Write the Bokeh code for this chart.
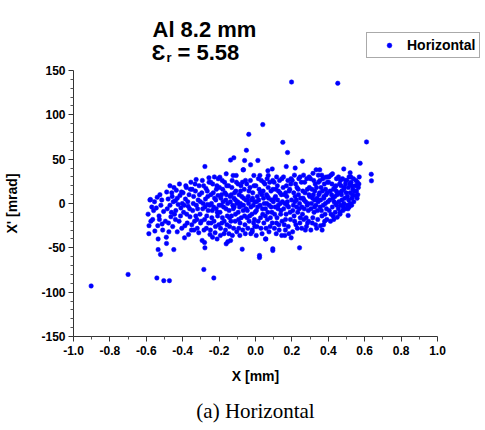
from bokeh.plotting import figure
from bokeh.models import (Range1d, Label, Legend, LegendItem, FixedTicker,
                          PrintfTickFormatter, ColumnDataSource)
from bokeh.embed import file_html
from bokeh.resources import INLINE

# ---- data: (X [mm], X' [mrad]) ----
core_pts = [
    (-0.59,-12),(-0.58,4),(-0.585,-25),(-0.586,-34),(-0.57,-4),(-0.565,-18),(-0.56,-8),(-0.553,-31),(-0.555,2),(-0.575,-20),
    (-0.54,7),(-0.537,-25),(-0.53,-14),(-0.545,-5),(-0.52,-2),(-0.513,-23),(-0.525,10),(-0.51,-30),(-0.505,-9),(-0.535,-40),(-0.515,4),(-0.528,-18),
    (-0.49,-38),(-0.476,-32),(-0.47,20),(-0.495,-20),(-0.485,-6),(-0.48,5),(-0.465,-15),(-0.46,12),(-0.455,-26),(-0.47,-2),(-0.452,2),(-0.488,13),(-0.462,-10),(-0.478,-22),(-0.458,8),
    (-0.43,-32),(-0.445,-12),(-0.44,3),(-0.435,15),(-0.42,-20),(-0.41,-5),(-0.415,9),(-0.405,-28),(-0.448,18),(-0.425,-1),(-0.43,6),(-0.412,-14),(-0.402,0),(-0.438,-8),(-0.418,22),(-0.407,13),(-0.44,-18),
    (-0.39,-38.7),(-0.395,-10),(-0.385,5),(-0.38,18),(-0.375,-22),(-0.37,-3),(-0.365,10),(-0.36,-15),(-0.355,24),(-0.352,-30),(-0.398,12),(-0.388,-25),(-0.372,2),(-0.362,-6),(-0.378,-12),(-0.358,16),(-0.368,-35),(-0.392,-2),(-0.383,20),
    (-0.326,27),(-0.345,-8),(-0.34,8),(-0.335,-20),(-0.33,14),(-0.325,-2),(-0.32,-28),(-0.315,4),(-0.31,20),(-0.305,-12),(-0.348,16),(-0.338,-30),(-0.328,-14),(-0.318,-6),(-0.308,10),(-0.302,-22),(-0.342,0),(-0.332,22),(-0.322,-18),(-0.312,-33),(-0.35,-24),(-0.303,2),
    (-0.293,-41.7),(-0.28,-44),(-0.278,-50),(-0.278,41.7),(-0.256,29),(-0.295,12),(-0.29,-6),(-0.285,20),(-0.28,-18),(-0.275,5),(-0.27,-28),(-0.265,14),(-0.26,-8),(-0.255,24),(-0.252,-2),(-0.298,-20),(-0.288,0),(-0.283,-30),(-0.272,17),(-0.268,-14),(-0.262,8),(-0.258,-22),(-0.25,-35),(-0.292,26),(-0.277,-4),(-0.264,-1),
    (-0.245,10),(-0.24,-16),(-0.235,22),(-0.23,-4),(-0.225,6),(-0.22,-26),(-0.215,16),(-0.21,-10),(-0.205,28),(-0.2,-2),(-0.248,-30),(-0.242,0),(-0.238,-8),(-0.232,12),(-0.228,-20),(-0.222,-33),(-0.218,4),(-0.212,20),(-0.208,-14),(-0.202,-24),(-0.246,24),(-0.236,-38),(-0.226,30),(-0.216,-6),(-0.206,9),(-0.244,-22),(-0.211,-40),
    (-0.196,29.7),(-0.161,33.5),(-0.161,-45.5),(-0.152,-43),(-0.195,-10),(-0.19,6),(-0.185,-22),(-0.18,16),(-0.175,-4),(-0.17,24),(-0.165,-30),(-0.16,10),(-0.155,-14),(-0.198,18),(-0.192,-28),(-0.188,-2),(-0.182,-16),(-0.178,2),(-0.172,-20),(-0.168,12),(-0.162,-6),(-0.158,20),(-0.153,0),(-0.193,-36),(-0.183,26),(-0.173,-34),(-0.163,4),(-0.186,10),(-0.157,-24),
    (-0.137,-41.7),(-0.137,49),(-0.119,51.5),(-0.123,31.6),(-0.106,31.6),(-0.145,-8),(-0.14,8),(-0.135,-20),(-0.13,18),(-0.125,-2),(-0.12,-28),(-0.115,12),(-0.11,-12),(-0.105,24),(-0.102,0),(-0.148,20),(-0.142,-26),(-0.138,2),(-0.132,-14),(-0.128,26),(-0.122,-6),(-0.118,6),(-0.112,-20),(-0.108,14),(-0.103,-32),(-0.146,-34),(-0.127,-36),(-0.117,-4),(-0.133,10),(-0.143,-16),(-0.11,4),
    (-0.073,-51.5),(-0.066,38),(-0.068,38),(-0.06,48.5),(-0.05,60),(-0.095,-10),(-0.09,10),(-0.085,-22),(-0.08,20),(-0.075,-2),(-0.07,-30),(-0.065,6),(-0.06,-14),(-0.055,26),(-0.052,-6),(-0.098,2),(-0.092,-28),(-0.088,-4),(-0.082,14),(-0.078,-16),(-0.072,24),(-0.068,-8),(-0.062,16),(-0.058,-24),(-0.053,4),(-0.096,22),(-0.086,-36),(-0.076,8),(-0.066,-2),(-0.056,-34),(-0.083,0),(-0.093,-18),
    (-0.037,78),(-0.027,43.6),(-0.018,-30),(-0.018,-32),(-0.009,31.6),(-0.045,-8),(-0.04,8),(-0.035,-20),(-0.03,18),(-0.025,-4),(-0.02,-12),(-0.015,12),(-0.01,-22),(-0.005,2),(-0.002,-10),(-0.048,22),(-0.042,-28),(-0.038,0),(-0.032,-14),(-0.028,26),(-0.022,4),(-0.012,-2),(-0.008,20),(-0.004,-26),(-0.046,-16),(-0.036,14),(-0.026,-34),(-0.016,6),(-0.006,-18),(-0.044,4),
    (0.04,89),(0.013,48.5),(0.024,31.6),(0.022,-58.6),(0.022,-61),(0.005,-8),(0.01,8),(0.015,-20),(0.02,16),(0.025,-2),(0.03,-28),(0.035,10),(0.04,-12),(0.045,24),(0.048,0),(0.002,20),(0.008,-26),(0.012,-4),(0.018,4),(0.028,-16),(0.032,26),(0.038,-6),(0.042,14),(0.046,-22),(0.004,-36),(0.016,28),(0.026,12),(0.036,-34),(0.006,2),(0.044,6),
    (0.07,31.6),(0.068,37),(0.092,39),(0.095,-51),(0.095,-53),(0.055,-40),(0.057,-40),(0.055,-6),(0.06,10),(0.065,-18),(0.07,18),(0.075,-2),(0.08,-26),(0.085,14),(0.09,-10),(0.095,26),(0.098,2),(0.052,22),(0.058,-28),(0.062,0),(0.068,-10),(0.072,6),(0.078,24),(0.082,-16),(0.088,4),(0.092,-22),(0.096,16),(0.054,-14),(0.064,28),(0.074,-32),(0.086,-4),(0.066,8),
    (0.114,-34),(0.105,-12),(0.11,8),(0.115,-22),(0.12,20),(0.125,-2),(0.13,-30),(0.135,12),(0.14,-8),(0.145,28),(0.148,2),(0.102,24),(0.108,-4),(0.112,16),(0.118,-16),(0.122,4),(0.128,-24),(0.132,26),(0.138,-12),(0.142,10),(0.146,-20),(0.104,-28),(0.116,30),(0.126,14),(0.136,0),(0.144,-36),(0.124,-6),(0.106,6),
    (0.15,69),(0.176,57.5),(0.169,41.7),(0.161,-36),(0.196,-38.7),(0.155,-6),(0.16,10),(0.165,-18),(0.17,20),(0.175,2),(0.18,-26),(0.185,14),(0.19,-10),(0.195,28),(0.152,18),(0.158,-24),(0.162,0),(0.168,-12),(0.172,8),(0.178,26),(0.182,-4),(0.188,16),(0.192,-18),(0.198,4),(0.154,30),(0.164,-30),(0.174,-2),(0.184,-34),(0.194,22),(0.166,12),
    (0.218,40),(0.242,-50),(0.205,-8),(0.21,12),(0.215,-20),(0.22,22),(0.225,4),(0.23,-28),(0.235,16),(0.24,-6),(0.245,30),(0.248,6),(0.202,26),(0.208,-2),(0.212,-14),(0.218,8),(0.222,-24),(0.228,18),(0.232,-10),(0.238,28),(0.242,0),(0.246,-16),(0.204,-32),(0.214,32),(0.226,-4),(0.236,10),(0.244,-22),(0.216,2),
    (0.258,47.7),(0.255,-4),(0.26,14),(0.265,-18),(0.27,24),(0.275,2),(0.28,-26),(0.285,16),(0.29,-8),(0.295,30),(0.298,8),(0.252,24),(0.258,-12),(0.262,6),(0.268,-6),(0.272,12),(0.278,-16),(0.282,28),(0.288,0),(0.292,-20),(0.296,18),(0.254,-28),(0.264,32),(0.274,-30),(0.284,-2),(0.294,10),(0.266,4),(0.286,-22),
    (0.333,38),(0.305,-6),(0.31,16),(0.315,-16),(0.32,26),(0.325,4),(0.33,-24),(0.335,18),(0.34,-8),(0.345,32),(0.348,10),(0.302,28),(0.308,0),(0.312,-22),(0.318,10),(0.322,-10),(0.328,22),(0.332,-2),(0.338,6),(0.342,-18),(0.346,24),(0.304,-30),(0.316,34),(0.326,14),(0.336,-28),(0.344,2),(0.314,6),(0.324,-4),
    (0.353,38),(0.366,-30),(0.357,-25),(0.386,29.7),(0.355,-4),(0.36,18),(0.365,-14),(0.37,28),(0.375,6),(0.38,-20),(0.385,16),(0.39,-6),(0.395,24),(0.398,2),(0.352,12),(0.358,4),(0.362,-8),(0.368,14),(0.372,-2),(0.378,22),(0.382,-12),(0.388,10),(0.392,-18),(0.396,30),(0.354,26),(0.364,32),(0.374,-24),(0.384,0),(0.394,12),(0.376,8),
    (0.423,33.5),(0.449,-15.4),(0.405,-8),(0.41,14),(0.415,-12),(0.42,22),(0.425,6),(0.43,-18),(0.435,18),(0.44,0),(0.445,28),(0.448,10),(0.402,24),(0.408,4),(0.412,-20),(0.418,10),(0.422,-4),(0.428,16),(0.432,2),(0.438,-10),(0.442,20),(0.446,-2),(0.404,30),(0.414,32),(0.426,-14),(0.436,8),(0.444,14),
    (0.467,26),(0.485,39),(0.455,-6),(0.46,12),(0.465,-10),(0.47,20),(0.475,4),(0.48,-8),(0.485,16),(0.49,6),(0.495,26),(0.458,2),(0.462,22),(0.468,-2),(0.472,10),(0.478,28),(0.482,-4),(0.488,18),(0.492,-6),(0.498,12),(0.456,30),(0.474,14),(0.486,0),(0.464,-12),(0.494,22),
    (0.509,-13.5),(0.52,34.6),(0.524,30),(0.53,20),(0.52,0),(0.546,9),(0.505,8),(0.51,18),(0.515,-4),(0.52,12),(0.525,24),(0.53,6),(0.535,16),(0.54,2),(0.502,26),(0.508,-6),(0.512,4),(0.518,22),(0.528,-2),(0.532,10),(0.538,28),(0.542,14),(0.548,20),(0.504,-2),(0.514,30),
    (0.555,14),(0.56,24),(0.565,18),(0.57,30),(0.558,6),(0.552,26),(0.562,10),(0.568,22),
]
outlier_pts = [
    (0.198,137),(0.452,135.6),(0.575,45.4),(0.61,69.5),(0.636,33),(0.637,25.6),
    (-0.903,-93),(-0.70,-80),(-0.542,-84),(-0.504,-87),(-0.473,-87),(-0.284,-74.4),(-0.229,-84),
    (-0.522,-57.5),(-0.535,-52),(-0.489,-45),(-0.449,-52),(-0.577,4.5),
]

x_mm = [p[0] for p in core_pts + outlier_pts]
xp_mrad = [p[1] for p in core_pts + outlier_pts]

x_ticks = [-1.0, -0.8, -0.6, -0.4, -0.2, 0.0, 0.2, 0.4, 0.6, 0.8, 1.0]
y_ticks = [-150, -100, -50, 0, 50, 100, 150]
x_lim = (-1.0, 1.0)
y_lim = (-150, 150)

FONT = "Liberation Sans"

# plot box in canvas pixels (axes drawn at fixed data locations, frame = whole canvas)
W, H = 485, 430
BOX_L, BOX_R, BOX_T, BOX_B = 73, 437, 70, 336
sx = (x_lim[1] - x_lim[0]) / (BOX_R - BOX_L)
sy = (y_lim[1] - y_lim[0]) / (BOX_B - BOX_T)
xr = Range1d(x_lim[0] - BOX_L * sx, x_lim[1] + (W - BOX_R) * sx)
yr = Range1d(y_lim[0] - (H - BOX_B) * sy, y_lim[1] + BOX_T * sy)

def px2x(px):
    return x_lim[0] + (px - BOX_L) * sx

def py2y(py):
    return y_lim[1] - (py - BOX_T) * sy

p = figure(width=W, height=H, output_backend="svg", toolbar_location=None,
           title_location=None, x_range=xr, y_range=yr,
           min_border_left=0, min_border_right=0, min_border_top=0, min_border_bottom=0)
p.outline_line_color = None
p.xgrid.visible = False
p.ygrid.visible = False
p.background_fill_color = "white"
p.border_fill_color = "white"

src = ColumnDataSource(dict(x=x_mm, y=xp_mrad))
r = p.scatter("x", "y", source=src, size=4.5, fill_color="#0000ff", line_color="#0000ff",
              line_width=0.5)

for ax in (p.xaxis[0], p.yaxis[0]):
    ax.axis_line_color = "#333333"
    ax.major_tick_line_color = "#333333"
    ax.minor_tick_line_color = "#555555"
    ax.major_tick_in = 0
    ax.major_tick_out = 5
    ax.minor_tick_in = 0
    ax.minor_tick_out = 3
    ax.major_label_text_font = FONT
    ax.major_label_text_font_style = "bold"
    ax.major_label_text_font_size = "12px"
    ax.major_label_text_color = "black"
    ax.axis_label_text_font = FONT
    ax.axis_label_text_font_style = "bold"
    ax.axis_label_text_font_size = "14px"
    ax.axis_label_text_color = "black"

p.xaxis.fixed_location = y_lim[0]
p.xaxis.bounds = x_lim
p.yaxis.fixed_location = x_lim[0]
p.yaxis.bounds = y_lim
p.xaxis.major_label_standoff = 4
p.yaxis.major_label_standoff = 3
p.xaxis.ticker = FixedTicker(ticks=x_ticks, minor_ticks=[-0.9 + 0.2 * i for i in range(10)])
p.yaxis.ticker = FixedTicker(ticks=y_ticks, minor_ticks=[v for v in range(-140, 150, 10) if v % 50 != 0])
p.xaxis.formatter = PrintfTickFormatter(format="%.1f")
p.yaxis.formatter = PrintfTickFormatter(format="%d")
p.xaxis.axis_label = "X [mm]"
p.yaxis.axis_label = "X' [mrad]"
p.xaxis.axis_label_standoff = 10
p.yaxis.axis_label_standoff = 18

legend = Legend(items=[LegendItem(label="Horizontal", renderers=[r])],
                location=(366, H - 58), orientation="vertical")
legend.label_text_font = FONT
legend.label_text_font_style = "bold"
legend.label_text_font_size = "14px"
legend.label_text_color = "black"
legend.border_line_color = "#555555"
legend.border_line_width = 1
legend.padding = 4
legend.margin = 0
legend.glyph_width = 36
legend.glyph_height = 12
legend.label_height = 12
legend.label_standoff = 0
legend.spacing = 0
legend.background_fill_alpha = 1
p.add_layout(legend)

# annotation texts
p.add_layout(Label(x=px2x(152), y=py2y(29), text="Al 8.2 mm", text_font=FONT,
                   text_font_style="bold", text_font_size="22px", text_color="black",
                   text_baseline="alphabetic"))
p.add_layout(Label(x=px2x(151), y=py2y(52), text="\u0190", text_font=FONT,
                   text_font_style="bold", text_font_size="22px", text_color="black",
                   text_baseline="alphabetic"))
p.add_layout(Label(x=px2x(166), y=py2y(57), text="r", text_font=FONT,
                   text_font_style="bold", text_font_size="13px", text_color="black",
                   text_baseline="alphabetic"))
p.add_layout(Label(x=px2x(177), y=py2y(52), text="= 5.58", text_font=FONT,
                   text_font_style="bold", text_font_size="22px", text_color="black",
                   text_baseline="alphabetic"))
p.add_layout(Label(x=px2x(255), y=py2y(410), text="(a) Horizontal", text_font="Liberation Serif",
                   text_font_size="21px", text_color="black", text_align="center",
                   text_baseline="middle"))

open("out.html", "w").write(file_html(p, INLINE))
